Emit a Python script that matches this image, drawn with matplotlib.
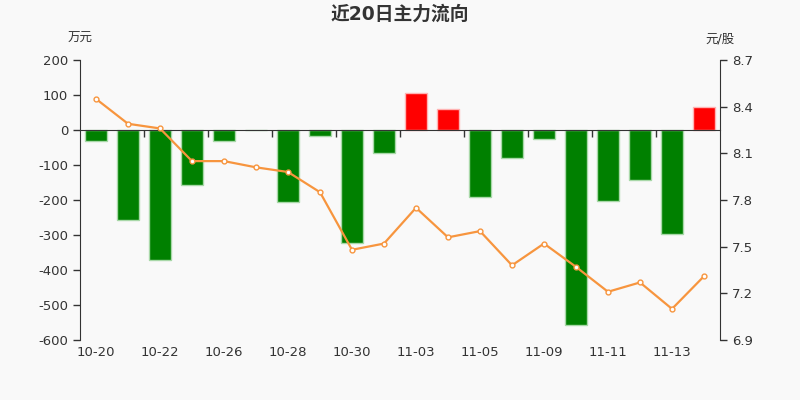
import matplotlib.pyplot as plt

plt.rcParams['font.family'] = ['DejaVu Sans', 'Noto Sans CJK SC']
plt.rcParams['axes.unicode_minus'] = False

dates = ['10-20', '10-21', '10-22', '10-23', '10-26', '10-27', '10-28', '10-29', '10-30', '11-02',
         '11-03', '11-04', '11-05', '11-06', '11-09', '11-10', '11-11', '11-12', '11-13', '11-16']
flow = [-30, -256, -370, -157, -32, -1, -205, -18, -323, -65,
        105, 60, -192, -79, -27, -558, -202, -143, -296, 65]
price = [8.45, 8.29, 8.26, 8.05, 8.05, 8.01, 7.98, 7.85, 7.48, 7.52,
         7.75, 7.56, 7.60, 7.38, 7.52, 7.37, 7.21, 7.27, 7.10, 7.31]

bg = '#f9f9f9'
txt = '#333333'

fig = plt.figure(figsize=(8, 4), dpi=100, facecolor=bg)
ax = fig.add_axes([0.1, 0.15, 0.8, 0.7], facecolor=bg)
x = list(range(len(dates)))

colors = ['#ff0000' if v > 0 else '#008000' for v in flow]
edges = ['#ffb3b3' if v > 0 else '#a8d8a8' for v in flow]
ax.bar(x, flow, width=0.7, color=colors, edgecolor=edges, linewidth=1, zorder=2)

ax.set_xlim(-0.5, len(dates) - 0.5)
ax.set_ylim(-600, 200)
ax.set_yticks(range(-600, 201, 100))
ax.tick_params(axis='y', colors=txt, labelsize=9.5, length=5, width=1)

for s in ['top', 'right']:
    ax.spines[s].set_visible(False)
ax.spines['left'].set_color(txt)
ax.spines['bottom'].set_position(('data', 0))
ax.spines['bottom'].set_color(txt)
ax.set_xticks([i + 0.5 for i in range(1, len(dates) - 1, 2)])
ax.set_xticklabels([])
ax.tick_params(axis='x', colors=txt, length=5, width=1, direction='out')
for i in range(0, len(dates), 2):
    ax.text(i, -0.045, dates[i], transform=ax.get_xaxis_transform(),
            ha='center', va='center', fontsize=9.5, color=txt)

ax2 = ax.twinx()
ax2.plot(x, price, color='#f7953e', linewidth=1.6, marker='o', markersize=3.5,
         markerfacecolor='white', markeredgecolor='#f7953e', markeredgewidth=1, zorder=3)
ax2.set_ylim(6.9, 8.7)
ax2.set_yticks([6.9, 7.2, 7.5, 7.8, 8.1, 8.4, 8.7])
ax2.tick_params(axis='y', colors=txt, labelsize=9.5, length=5, width=1)
for s in ['top', 'left', 'bottom']:
    ax2.spines[s].set_visible(False)
ax2.spines['right'].set_color(txt)

fig.text(0.5, 0.965, '近20日主力流向', ha='center', va='center', fontsize=13.5,
         fontweight='bold', color=txt)
fig.text(0.1, 0.903, '万元', ha='center', va='center', fontsize=9, color=txt)
fig.text(0.9, 0.903, '元/股', ha='center', va='center', fontsize=9, color=txt)

fig.savefig('out.png', dpi=100, facecolor=bg)
